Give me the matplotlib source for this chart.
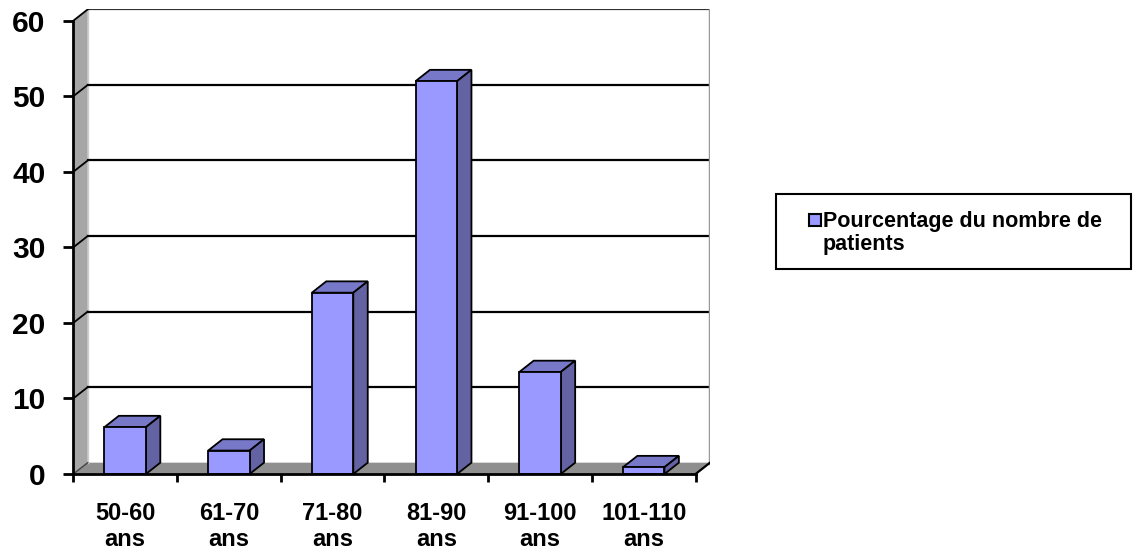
import matplotlib
matplotlib.use("Agg")
from matplotlib import pyplot as plt
from matplotlib.patches import Polygon, Rectangle

categories = ["50-60\nans", "61-70\nans", "71-80\nans", "81-90\nans", "91-100\nans", "101-110\nans"]
values = [6.2, 3.1, 24, 52, 13.5, 0.9]
series_name = "Pourcentage du nombre de\npatients"
y_ticks = [0, 10, 20, 30, 40, 50, 60]

FRONT = "#9999ff"
TOP = "#7878c8"
SIDE = "#6363a3"
DX = 0.139   # depth of the 3d effect in category units
DY = 1.5     # depth in value units
BAR_W = 0.4

plt.rcParams["font.family"] = ["Liberation Sans", "DejaVu Sans"]
plt.rcParams["font.weight"] = "bold"

W, H = 1134, 554
fig = plt.figure(figsize=(W / 100, H / 100), dpi=100)
ax = fig.add_axes([73.3 / W, 80 / H, 636.7 / W, 464.6 / H])

n = len(categories)
ymax = y_ticks[-1]
x0, x1 = -0.5, n - 0.5
ax.set_xlim(x0, x1 + DX)
ax.set_ylim(0, ymax + DY)

# walls
ax.add_patch(Polygon([(x0, 0), (x1, 0), (x1 + DX, DY), (x0 + DX, DY)],
                     closed=True, fc="#8f8f8f", ec="none", zorder=1))
ax.add_patch(Polygon([(x0, 0), (x0 + DX, DY), (x0 + DX, ymax + DY), (x0, ymax)],
                     closed=True, fc="#a6a6a6", ec="none", zorder=1))
ax.plot([x0 + DX, x0 + DX], [DY, ymax + DY], color="#cfcfcf", lw=1, zorder=1.5)
for v in y_ticks[1:]:
    c = "#333333" if v == ymax else "black"
    ax.plot([x0 + DX, x1 + DX], [v + DY, v + DY], color=c, lw=1.6, zorder=2)
    ax.plot([x0, x0 + DX], [v, v + DY], color="black", lw=1.3, zorder=2)
ax.plot([x0, x0 + DX], [0, DY], color="#444444", lw=1, zorder=2)
ax.plot([x1 + DX, x1 + DX], [DY, ymax + DY], color="#999999", lw=2.5, zorder=2)
ax.plot([x1, x1 + DX], [0, DY], color="black", lw=1.6, zorder=2)

# bars
xs = list(range(n))
ax.bar(xs, values, width=BAR_W, color=FRONT, edgecolor="black", lw=1.3, zorder=4)
for x, v in zip(xs, values):
    l, r = x - BAR_W / 2, x + BAR_W / 2
    ax.add_patch(Polygon([(l, v), (r, v), (r + DX, v + DY), (l + DX, v + DY)],
                         closed=True, fc=TOP, ec="black", lw=1.3, zorder=3))
    ax.add_patch(Polygon([(r, 0), (r + DX, DY), (r + DX, v + DY), (r, v)],
                         closed=True, fc=SIDE, ec="black", lw=1.3, zorder=3))

# axes
for s in ["top", "right"]:
    ax.spines[s].set_visible(False)
ax.spines["left"].set_bounds(0, ymax)
ax.spines["bottom"].set_bounds(x0, x1)
for s in ["left", "bottom"]:
    ax.spines[s].set_linewidth(2)
    ax.spines[s].set_zorder(5)
ax.set_yticks(y_ticks)
ax.set_yticklabels([str(t) for t in y_ticks], fontsize=21.5, fontweight="bold")
ax.tick_params(axis="y", length=7, width=2, pad=13)
ax.set_xticks([x0 + i for i in range(n + 1)])
ax.set_xticklabels([])
ax.tick_params(axis="x", which="major", length=6, width=2)
ax.set_xticks(xs, minor=True)
ax.set_xticklabels(categories, minor=True, fontsize=17, fontweight="bold", linespacing=1.15)
ax.tick_params(axis="x", which="minor", length=0, pad=20.5)

# legend
fig.add_artist(Rectangle((775.7 / W, 1 - 269.3 / H), (1131 - 775.7) / W, (269.3 - 194) / H,
                         transform=fig.transFigure, fill=False, ec="black", lw=1.5))
fig.add_artist(Rectangle((809 / W, 1 - 226 / H), 12 / W, 12 / H,
                         transform=fig.transFigure, fc=FRONT, ec="black", lw=1.5))
fig.text(823 / W, 1 - 211 / H, series_name, fontsize=15.5, fontweight="bold",
         va="top", ha="left", linespacing=1.12)

fig.savefig("out.png", dpi=100)
